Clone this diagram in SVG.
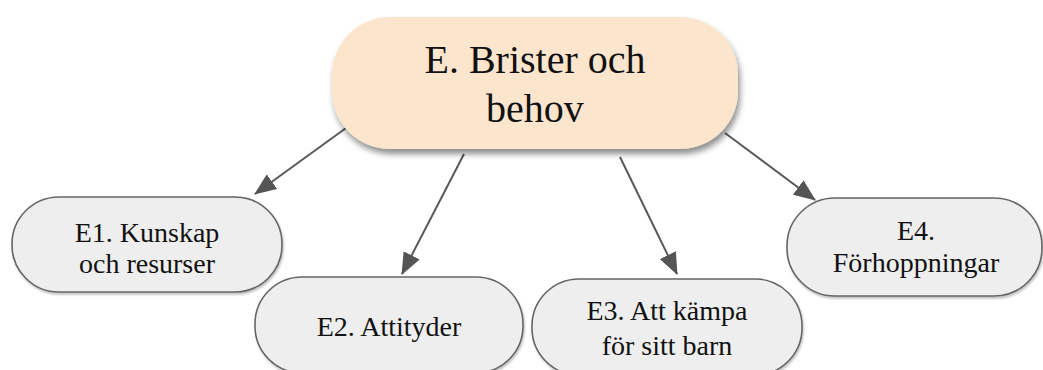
<svg xmlns="http://www.w3.org/2000/svg" width="1043" height="370" viewBox="0 0 1043 370">
  <style>
    .t { font-family: "Liberation Serif", "Times New Roman", serif; fill: #111111; text-anchor: middle; }
    .main { fill: #fce5cd; }
    .child { fill: #eeeeee; stroke: #666666; stroke-width: 1.6; }
    .edge { stroke: #595959; stroke-width: 2; fill: none; marker-end: url(#arrow); }
  </style>
  <defs>
    <filter id="shadow" x="-10%" y="-10%" width="125%" height="140%">
      <feGaussianBlur in="SourceAlpha" stdDeviation="3"/>
      <feOffset dx="2" dy="5" result="b"/>
      <feComponentTransfer><feFuncA type="linear" slope="0.45"/></feComponentTransfer>
      <feMerge><feMergeNode/><feMergeNode in="SourceGraphic"/></feMerge>
    </filter>
    <filter id="shadow2" x="-5%" y="-10%" width="115%" height="130%">
      <feGaussianBlur in="SourceAlpha" stdDeviation="1.2"/>
      <feOffset dx="1" dy="2" result="b"/>
      <feComponentTransfer><feFuncA type="linear" slope="0.25"/></feComponentTransfer>
      <feMerge><feMergeNode/><feMergeNode in="SourceGraphic"/></feMerge>
    </filter>
    <marker id="arrow" markerUnits="userSpaceOnUse" markerWidth="22" markerHeight="18" viewBox="0 0 22 18" refX="21" refY="9" orient="auto">
      <path d="M0,0 L22,9 L0,18 Z" fill="#555555"/>
    </marker>
  </defs>

  <g id="connectors">
    <line class="edge" x1="346" y1="128" x2="255" y2="194"/>
    <line class="edge" x1="464" y1="154" x2="402" y2="274"/>
    <line class="edge" x1="620" y1="157" x2="677" y2="274"/>
    <line class="edge" x1="725" y1="133" x2="815" y2="200"/>
  </g>

  <g id="node-E">
    <rect class="main" x="332" y="17" width="406" height="132" rx="58" ry="58" filter="url(#shadow)"/>
    <text class="t" x="535" y="73" font-size="40">E. Brister och</text>
    <text class="t" x="535" y="122" font-size="40">behov</text>
  </g>

  <g id="node-E1">
    <rect class="child" x="12" y="197" width="270" height="95" rx="47" ry="47" filter="url(#shadow2)"/>
    <text class="t" x="147" y="242" font-size="28">E1. Kunskap</text>
    <text class="t" x="147" y="273" font-size="28">och resurser</text>
  </g>

  <g id="node-E2">
    <rect class="child" x="255" y="277" width="268" height="96" rx="47" ry="47" filter="url(#shadow2)"/>
    <text class="t" x="389" y="336" font-size="28">E2. Attityder</text>
  </g>

  <g id="node-E3">
    <rect class="child" x="532" y="279" width="270" height="96" rx="47" ry="47" filter="url(#shadow2)"/>
    <text class="t" x="667" y="320" font-size="28">E3. Att kämpa</text>
    <text class="t" x="667" y="355" font-size="28">för sitt barn</text>
  </g>

  <g id="node-E4">
    <rect class="child" x="787" y="198" width="255" height="98" rx="48" ry="48" filter="url(#shadow2)"/>
    <text class="t" x="916" y="240" font-size="28">E4.</text>
    <text class="t" x="916" y="272" font-size="28">Förhoppningar</text>
  </g>
</svg>
